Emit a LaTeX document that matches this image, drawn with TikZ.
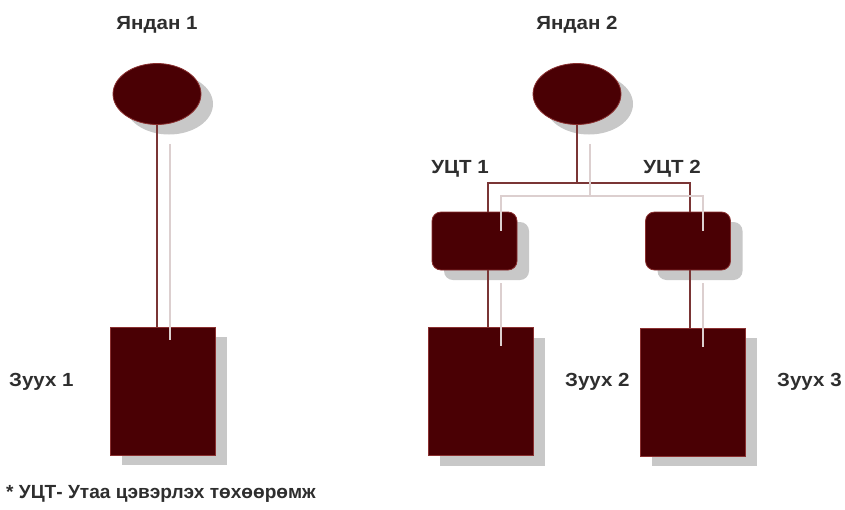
\documentclass[tikz,border=0pt]{standalone}
\usepackage{fontspec}
\setmainfont{Liberation Sans}
\usetikzlibrary{shadows,positioning,shapes.geometric}
\definecolor{maroon}{HTML}{4A0004}
\definecolor{edgered}{HTML}{8A3030}
\definecolor{linecol}{HTML}{7A3535}
\definecolor{shadowgray}{HTML}{C8C8C8}
\definecolor{shline}{HTML}{DCCFCF}
\definecolor{txt}{HTML}{2E2E2E}
\tikzset{
  shapebase/.style={fill=maroon, draw=edgered, line width=0.8pt,
    general shadow={shadow xshift=12pt, shadow yshift=-10pt, fill=shadowgray, draw=none}},
  stack/.style={shapebase, ellipse, minimum width=88pt, minimum height=61pt, inner sep=0pt},
  filter/.style={shapebase, rectangle, rounded corners=9pt, minimum width=85pt, minimum height=58pt, inner sep=0pt},
  boiler/.style={shapebase, rectangle, minimum width=105pt, minimum height=128pt, inner sep=0pt},
  conn/.style={draw=linecol, line width=1.3pt},
  connshadow/.style={draw=shline, line width=1.3pt, transform canvas={shift={(13pt,-13pt)}}},
  lbl/.style={font=\bfseries\fontsize{19}{22}\selectfont, text=txt, inner sep=0pt, xscale=1.08}
}
\begin{document}
\begin{tikzpicture}[x=1pt,y=-1pt]
\useasboundingbox (0,0) rectangle (845,509);
% titles
\node[lbl] (t1) at (157,25) {Яндан 1};
\node[lbl] (t2) at (577,25) {Яндан 2};
% shapes
\node[stack] (e1) at (157,94) {};
\node[stack] (e2) at (577,94) {};
\node[filter] (u1) at (474.5,241) {};
\node[filter] (u2) at (688,241) {};
\node[boiler] (b1) at (162.5,391) {};
\node[boiler] (b2) at (480.5,391.5) {};
\node[boiler] (b3) at (692.5,392) {};
\coordinate (j) at (577,183);
% connectors
\draw[conn] (e1.south) -- (e1.south |- b1.north);
\draw[conn] (e2.south) -- (j);
\draw[conn] (j) -| ([xshift=13.5pt]u1.north);
\draw[conn] (j) -| ([xshift=2pt]u2.north);
\draw[conn] ([xshift=13.5pt]u1.south) -- ([xshift=13.5pt]u1.south |- b2.north);
\draw[conn] ([xshift=2pt]u2.south) -- ([xshift=2pt]u2.south |- b3.north);
% connector shadows
\draw[connshadow] ([yshift=-6pt]e1.south) -- (e1.south |- b1.north);
\draw[connshadow] ([yshift=-6pt]e2.south) -- (j);
\draw[connshadow] (j) -| ([xshift=13.5pt,yshift=-6pt]u1.north);
\draw[connshadow] (j) -| ([xshift=2pt,yshift=-6pt]u2.north);
\draw[connshadow] ([xshift=13.5pt]u1.south) -- ([xshift=13.5pt,yshift=-6pt]u1.south |- b2.north);
\draw[connshadow] ([xshift=2pt]u2.south) -- ([xshift=2pt,yshift=-6pt]u2.south |- b3.north);
% labels
\node[lbl] (l1) at (460,169) {УЦТ 1};
\node[lbl] (l2) at (672,169) {УЦТ 2};
\node[lbl, anchor=west] (z1) at (9,382) {Зуух 1};
\node[lbl, anchor=west] (z2) at (565,382) {Зуух 2};
\node[lbl, anchor=west] (z3) at (777,382) {Зуух 3};
\node[lbl, xscale=0.93, anchor=west] (fn) at (6,494) {* УЦТ- Утаа цэвэрлэх төхөөрөмж};
\end{tikzpicture}
\end{document}
